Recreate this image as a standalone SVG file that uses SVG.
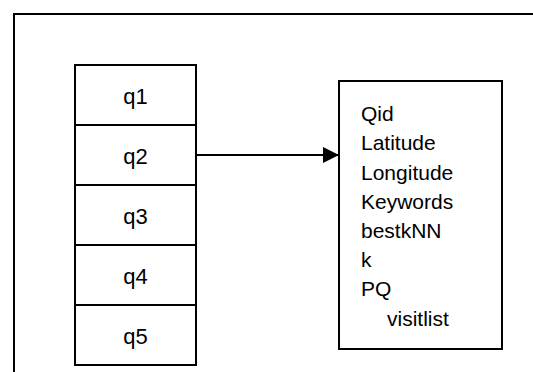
<svg xmlns="http://www.w3.org/2000/svg" width="533" height="372" viewBox="0 0 533 372">
  <style>
    .box { fill: #ffffff; stroke: #000000; stroke-width: 2; }
    .frame { fill: none; stroke: #000000; stroke-width: 2; }
    .lbl { font-family: "Liberation Sans", Arial, sans-serif; font-size: 21px; fill: #000000; }
    .mid { text-anchor: middle; font-size: 22px; }
    .link { stroke: #000000; stroke-width: 2; fill: none; }
  </style>
  <defs>
    <marker id="head" viewBox="0 0 16 16" refX="16" refY="8" markerWidth="16" markerHeight="16" markerUnits="userSpaceOnUse" orient="auto">
      <path d="M0,0 L16,8 L0,16 Z" fill="#000000"/>
    </marker>
  </defs>
  <rect width="533" height="372" fill="#ffffff"/>
  <!-- outer frame, open to the right and bottom -->
  <rect class="frame" x="14" y="14" width="540" height="380"/>

  <!-- query list -->
  <g id="q1"><rect class="box" x="75" y="65" width="121" height="60"/><text class="lbl mid" x="135.5" y="104">q1</text></g>
  <g id="q2"><rect class="box" x="75" y="125" width="121" height="60"/><text class="lbl mid" x="135.5" y="164">q2</text></g>
  <g id="q3"><rect class="box" x="75" y="185" width="121" height="60"/><text class="lbl mid" x="135.5" y="224">q3</text></g>
  <g id="q4"><rect class="box" x="75" y="245" width="121" height="60"/><text class="lbl mid" x="135.5" y="284">q4</text></g>
  <g id="q5"><rect class="box" x="75" y="305" width="121" height="60"/><text class="lbl mid" x="135.5" y="344">q5</text></g>

  <!-- query record fields -->
  <g id="record">
    <rect class="box" x="339" y="81" width="163" height="268"/>
    <text class="lbl" x="361" y="121">Qid</text>
    <text class="lbl" x="361" y="150">Latitude</text>
    <text class="lbl" x="361" y="180">Longitude</text>
    <text class="lbl" x="361" y="209">Keywords</text>
    <text class="lbl" x="361" y="238">bestkNN</text>
    <text class="lbl" x="361" y="267">k</text>
    <text class="lbl" x="361" y="296">PQ</text>
    <text class="lbl" x="387" y="326">visitlist</text>
  </g>

  <g id="connectors">
    <line class="link" x1="196" y1="155" x2="339" y2="155" marker-end="url(#head)"/>
  </g>
</svg>
